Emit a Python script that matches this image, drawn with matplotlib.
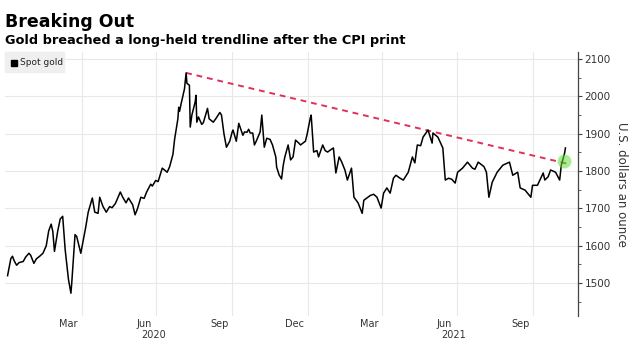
import matplotlib
matplotlib.use("Agg")
import matplotlib.pyplot as plt
import numpy as np
import pandas as pd

# spot gold, USD/oz
dates = [
    "2020-01-02", "2020-01-06", "2020-01-08", "2020-01-10", "2020-01-13", "2020-01-16",
    "2020-01-21", "2020-01-24", "2020-01-28", "2020-01-30", "2020-02-03", "2020-02-06",
    "2020-02-10", "2020-02-14", "2020-02-18", "2020-02-21", "2020-02-24", "2020-02-26",
    "2020-02-28", "2020-03-03", "2020-03-06", "2020-03-09", "2020-03-12", "2020-03-16",
    "2020-03-19", "2020-03-20", "2020-03-24", "2020-03-26", "2020-03-31", "2020-04-03",
    "2020-04-06", "2020-04-09", "2020-04-14", "2020-04-17", "2020-04-21", "2020-04-23",
    "2020-04-27", "2020-05-01", "2020-05-05", "2020-05-08", "2020-05-12", "2020-05-18",
    "2020-05-21", "2020-05-25", "2020-05-28", "2020-06-02", "2020-06-05", "2020-06-08",
    "2020-06-12", "2020-06-16", "2020-06-19", "2020-06-24", "2020-06-26", "2020-06-30",
    "2020-07-03", "2020-07-08", "2020-07-14", "2020-07-17", "2020-07-21", "2020-07-23",
    "2020-07-27", "2020-07-28", "2020-07-29", "2020-07-31", "2020-08-04", "2020-08-06",
    "2020-08-07", "2020-08-10", "2020-08-11", "2020-08-13", "2020-08-17", "2020-08-18",
    "2020-08-19", "2020-08-21", "2020-08-25", "2020-08-27", "2020-09-01", "2020-09-03",
    "2020-09-08", "2020-09-11", "2020-09-16", "2020-09-18", "2020-09-21", "2020-09-24",
    "2020-09-28", "2020-10-01", "2020-10-02", "2020-10-06", "2020-10-09", "2020-10-14",
    "2020-10-16", "2020-10-19", "2020-10-21", "2020-10-23", "2020-10-26", "2020-10-28",
    "2020-10-30", "2020-11-02", "2020-11-04", "2020-11-06", "2020-11-09", "2020-11-12",
    "2020-11-16", "2020-11-19", "2020-11-23", "2020-11-24", "2020-11-27", "2020-11-30",
    "2020-12-02", "2020-12-04", "2020-12-08", "2020-12-11", "2020-12-14", "2020-12-17",
    "2020-12-21", "2020-12-23", "2020-12-29", "2020-12-31", "2021-01-04", "2021-01-05",
    "2021-01-08", "2021-01-12", "2021-01-14", "2021-01-19", "2021-01-22", "2021-01-25",
    "2021-01-28", "2021-02-01", "2021-02-04", "2021-02-08", "2021-02-11", "2021-02-15",
    "2021-02-18", "2021-02-23", "2021-02-26", "2021-03-03", "2021-03-08", "2021-03-10",
    "2021-03-15", "2021-03-18", "2021-03-22", "2021-03-26", "2021-03-31", "2021-04-03",
    "2021-04-07", "2021-04-11", "2021-04-15", "2021-04-18", "2021-04-23", "2021-04-27",
    "2021-05-03", "2021-05-08", "2021-05-11", "2021-05-14", "2021-05-18", "2021-05-21",
    "2021-05-27", "2021-06-01", "2021-06-02", "2021-06-08", "2021-06-14", "2021-06-17",
    "2021-06-21", "2021-06-25", "2021-06-29", "2021-07-02", "2021-07-08", "2021-07-14",
    "2021-07-20", "2021-07-23", "2021-07-27", "2021-08-03", "2021-08-06", "2021-08-09",
    "2021-08-13", "2021-08-19", "2021-08-26", "2021-09-03", "2021-09-07", "2021-09-13",
    "2021-09-16", "2021-09-22", "2021-09-29", "2021-10-01", "2021-10-07", "2021-10-14",
    "2021-10-16", "2021-10-20", "2021-10-23", "2021-10-29", "2021-11-03", "2021-11-05",
    "2021-11-09", "2021-11-10",
]
prices = [
    1520, 1566, 1572, 1560, 1548, 1555,
    1558, 1570, 1580, 1575, 1553, 1565,
    1572, 1580, 1600, 1640, 1658, 1638,
    1585, 1640, 1672, 1679, 1590, 1510,
    1473, 1500, 1630, 1625, 1580, 1615,
    1650, 1690, 1728, 1690, 1687, 1730,
    1705, 1690, 1705, 1702, 1713, 1744,
    1730, 1715, 1728, 1710, 1683, 1700,
    1730, 1727, 1744, 1765, 1760, 1775,
    1772, 1808, 1797, 1812, 1845, 1885,
    1940, 1971, 1960, 1981, 2020, 2063,
    2035, 2030, 1918, 1950, 1985, 2003,
    1931, 1945, 1925, 1930, 1968, 1940,
    1931, 1940, 1957, 1950, 1900, 1864,
    1880, 1905, 1910, 1880, 1928, 1896,
    1905, 1904, 1912, 1902, 1902, 1870,
    1879, 1895, 1905, 1950, 1864, 1888,
    1885, 1870, 1838, 1811, 1790, 1779,
    1815, 1838, 1870, 1830, 1838, 1883,
    1875, 1870, 1880, 1898, 1943, 1950,
    1851, 1855, 1838, 1870, 1855, 1851,
    1856, 1862, 1795, 1838, 1825, 1803,
    1776, 1808, 1730, 1715, 1687, 1722,
    1730, 1735, 1738, 1730, 1701, 1741,
    1755, 1741, 1781, 1789, 1781, 1776,
    1797, 1838, 1822, 1870, 1868, 1891,
    1910, 1875, 1902, 1891, 1862, 1776,
    1781, 1778, 1768, 1797, 1808, 1824,
    1808, 1805, 1824, 1812, 1797, 1730,
    1770, 1797, 1816, 1824, 1789, 1797,
    1755, 1749, 1730, 1762, 1762, 1795,
    1776, 1785, 1803, 1797, 1776, 1816,
    1848, 1862,
]

# trendline from the Aug-2020 record to the breakout
trend_dates = ["2020-08-06", "2021-11-12"]
trend_values = [2063, 1820]
breakout_date = "2021-11-08"
breakout_value = 1827

yticks = [1500, 1600, 1700, 1800, 1900, 2000, 2100]
month_labels = ["Mar", "Jun", "Sep", "Dec", "Mar", "Jun", "Sep"]
month_label_dates = ["2020-03-16", "2020-06-16", "2020-09-16", "2020-12-16",
                     "2021-03-16", "2021-06-16", "2021-09-16"]
grid_dates = ["2020-04-01", "2020-07-01", "2020-10-01", "2021-01-01",
              "2021-04-01", "2021-07-01", "2021-10-01"]
year_labels = ["2020", "2021"]
year_label_dates = ["2020-06-27", "2021-06-27"]

x = pd.to_datetime(dates)

fig = plt.figure(figsize=(6.37, 3.42), dpi=100)
ax = fig.add_axes([0.008, 0.076, 0.899, 0.772])

for d in pd.to_datetime(grid_dates):
    ax.axvline(d, color="#e8e8e8", lw=0.8, zorder=0)
for v in yticks:
    ax.axhline(v, color="#e8e8e8", lw=0.8, zorder=0)

ax.plot(x, prices, color="black", lw=1.1, zorder=3)
ax.plot(pd.to_datetime(trend_dates), trend_values, color="#e0305a",
        lw=1.4, ls=(0, (3, 2.5)), zorder=2)
ax.plot(pd.to_datetime([breakout_date]), [breakout_value], "o",
        ms=10, color="#5fe03a", alpha=0.55, mec="none", zorder=4)

ax.set_xlim(pd.Timestamp("2019-12-30"), pd.Timestamp("2021-11-25"))
ax.set_ylim(1412, 2119)

for s in ["left", "top", "bottom"]:
    ax.spines[s].set_visible(False)
ax.spines["right"].set_color("#444444")
ax.spines["right"].set_linewidth(0.9)

ax.yaxis.tick_right()
ax.set_yticks(yticks)
ax.set_yticks(np.arange(1450, 2101, 100), minor=True)
ax.tick_params(axis="y", which="major", length=3, width=0.8, color="#444444",
               labelsize=7.5, labelcolor="#333333", pad=2)
ax.tick_params(axis="y", which="minor", length=2, width=0.6, color="#444444")
ax.yaxis.set_label_position("right")
ax.set_ylabel("U.S. dollars an ounce", rotation=270, labelpad=12,
              fontsize=8.5, color="#333333")

ax.set_xticks(pd.to_datetime(month_label_dates))
ax.set_xticklabels(month_labels, fontsize=7, color="#333333")
ax.tick_params(axis="x", length=0, pad=2)
for lbl, d in zip(year_labels, year_label_dates):
    ax.text(pd.Timestamp(d), -0.072, lbl, transform=ax.get_xaxis_transform(),
            ha="center", va="center", fontsize=7, color="#333333")

fig.text(0.008, 0.92, "Breaking Out", fontsize=12.5, fontweight="bold",
         va="baseline")
fig.text(0.008, 0.87, "Gold breached a long-held trendline after the CPI print",
         fontsize=9.3, fontweight="bold", va="baseline")

# legend chip
fig.patches.append(plt.Rectangle((0.008, 0.79), 0.093, 0.058,
                                 transform=fig.transFigure,
                                 color="#efefef", zorder=5))
fig.patches.append(plt.Rectangle((0.018, 0.808), 0.009, 0.018,
                                 transform=fig.transFigure,
                                 color="black", zorder=6))
fig.text(0.031, 0.818, "Spot gold", fontsize=6.5, va="center", color="#222222",
         zorder=7)

fig.savefig("out.png", dpi=100)
